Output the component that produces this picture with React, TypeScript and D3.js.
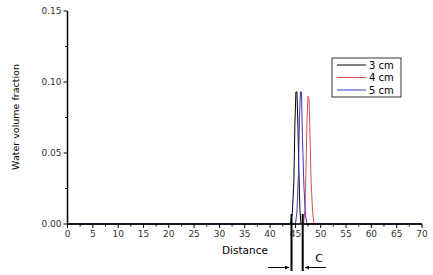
import React from "react";
import * as d3 from "d3";

const xTicks = [0, 5, 10, 15, 20, 25, 30, 35, 40, 45, 50, 55, 60, 65, 70];
const yTicks = [0.0, 0.05, 0.1, 0.15];
const yTickLabels = ["0.00", "0.05", "0.10", "0.15"];

const seriesNames = ["3 cm", "4 cm", "5 cm"];
const seriesColors = ["#000000", "#d85050", "#3838c0"];

const x3 = [0, 44.0, 44.4, 44.7, 44.9, 45.1, 45.3, 45.5, 45.7, 45.9, 46.1, 70];
const y3 = [0, 0, 0.008, 0.03, 0.07, 0.093, 0.093, 0.07, 0.035, 0.01, 0, 0];

const x4 = [0, 46.6, 46.9, 47.1, 47.3, 47.5, 47.7, 47.9, 48.1, 48.4, 48.7, 70];
const y4 = [0, 0, 0.01, 0.04, 0.075, 0.09, 0.088, 0.06, 0.03, 0.008, 0, 0];

const x5 = [0, 45.0, 45.3, 45.6, 45.8, 46.0, 46.2, 46.4, 46.7, 47.0, 47.3, 70];
const y5 = [0, 0, 0.008, 0.035, 0.075, 0.093, 0.093, 0.06, 0.025, 0.006, 0, 0];

const seriesX = [x3, x4, x5];
const seriesY = [y3, y4, y5];

export default function App() {
  const W = 433, H = 275;
  const left = 67.5, right = 422, top = 11, bottom = 224;
  const x = d3.scaleLinear().domain([0, 70]).range([left, right]);
  const y = d3.scaleLinear().domain([0, 0.15]).range([bottom, top]);
  const line = d3.line<[number, number]>().x(d => x(d[0])).y(d => y(d[1]));
  const font = "'DejaVu Sans', sans-serif";
  const minorX = d3.range(2.5, 70, 5);
  const minorY = [0.025, 0.075, 0.125];

  return (
    <svg width={W} height={H} style={{ position: "absolute", left: 0, top: 0, background: "#fff" }}>
      <defs>
        <marker id="ah" viewBox="0 0 10 10" refX="10" refY="5" markerWidth="6" markerHeight="4" orient="auto" markerUnits="userSpaceOnUse">
          <path d="M0,0 L10,5 L0,10 z" fill="#000" />
        </marker>
      </defs>
      <rect x={0} y={0} width={W} height={H} fill="#fff" />
      {seriesX.map((xs, i) => (
        <path key={i} d={line(xs.map((v, j) => [v, seriesY[i][j]] as [number, number])) || ""}
          fill="none" stroke={seriesColors[i]} strokeWidth={1} />
      ))}
      {/* axes */}
      <line x1={left} x2={left} y1={top} y2={bottom} stroke="#000" strokeWidth={1.5} />
      <line x1={left} x2={right} y1={bottom} y2={bottom} stroke="#000" strokeWidth={1.5} />
      {xTicks.map(t => (
        <g key={t}>
          <line x1={x(t)} x2={x(t)} y1={bottom} y2={bottom + 4} stroke="#000" />
          <text x={x(t)} y={bottom + 13} textAnchor="middle" fontSize={9} fontFamily={font} fill="#333">{t}</text>
        </g>
      ))}
      {minorX.map(t => (
        <line key={t} x1={x(t)} x2={x(t)} y1={bottom} y2={bottom + 2.5} stroke="#000" />
      ))}
      {yTicks.map((t, i) => (
        <g key={t}>
          <line x1={left - 4} x2={left} y1={y(t)} y2={y(t)} stroke="#000" />
          <text x={left - 6} y={y(t) + 3} textAnchor="end" fontSize={9} fontFamily={font} fill="#333">{yTickLabels[i]}</text>
        </g>
      ))}
      {minorY.map(t => (
        <line key={t} x1={left - 2.5} x2={left} y1={y(t)} y2={y(t)} stroke="#000" />
      ))}
      <text x={245} y={254} textAnchor="middle" fontSize={10.5} fontFamily={font} fill="#000">Distance</text>
      <text transform={`translate(19,117) rotate(-90)`} textAnchor="middle" fontSize={9.5} fontFamily={font} fill="#000">Water volume fraction</text>
      {/* legend */}
      <rect x={332} y={58} width={69} height={39} fill="#fff" stroke="#000" strokeWidth={0.8} />
      {seriesNames.map((n, i) => (
        <g key={n}>
          <line x1={337} x2={366} y1={65 + i * 12.5} y2={65 + i * 12.5} stroke={seriesColors[i]} strokeWidth={1} />
          <text x={369} y={68.5 + i * 12.5} fontSize={10} fontFamily={font} fill="#000">{n}</text>
        </g>
      ))}
      {/* annotation */}
      <line x1={291.5} x2={291.5} y1={214} y2={271} stroke="#000" strokeWidth={2} />
      <line x1={302.7} x2={302.7} y1={214} y2={271} stroke="#000" strokeWidth={2} />
      <line x1={268} x2={289} y1={267.5} y2={267.5} stroke="#000" strokeWidth={1} markerEnd="url(#ah)" />
      <line x1={326} x2={305} y1={267.5} y2={267.5} stroke="#000" strokeWidth={1} markerEnd="url(#ah)" />
      <text x={319} y={262} textAnchor="middle" fontSize={11} fontFamily={font} fill="#000">C</text>
    </svg>
  );
}
